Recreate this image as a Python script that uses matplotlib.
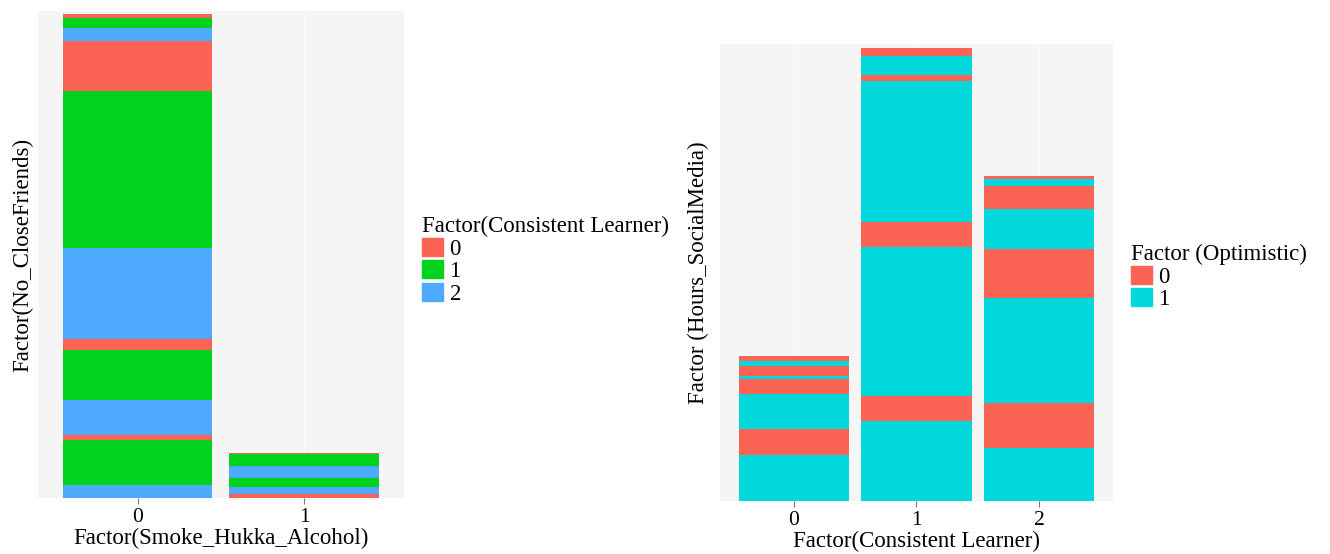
import matplotlib.pyplot as plt
from matplotlib.patches import Patch

plt.rcParams['font.family'] = ['Liberation Serif', 'DejaVu Serif']

# stacked segments, bottom to top: fill level and height
smoke_levels = ["0", "1"]
smoke0_fill = [2, 1, 0, 2, 1, 0, 2, 1, 0, 2, 1, 0]
smoke0_height = [12.7, 45.7, 4.6, 34.7, 50.7, 10.3, 91.3, 157, 50, 13, 10.4, 3.3]
smoke1_fill = [0, 2, 1, 2, 1, 0]
smoke1_height = [3.7, 7.6, 9, 12, 12, 1]

learner_levels = ["0", "1", "2"]
learner0_fill = [1, 0, 1, 0, 1, 0, 1, 0]
learner0_height = [45.7, 26, 35.7, 14.3, 3.3, 9.7, 5, 5.3]
learner1_fill = [1, 0, 1, 0, 1, 0, 1, 0]
learner1_height = [79.7, 25, 149.3, 25, 141, 6.4, 18.6, 7.7]
learner2_fill = [1, 0, 1, 0, 1, 0, 1, 0]
learner2_height = [53.3, 45, 104.7, 49, 40, 23, 6.7, 3.3]

learner_colors = ['#FB6454', '#00D21E', '#4DAAFD']
optimistic_colors = ['#FB6454', '#00D8DC']

W, H = 1330, 554
fig = plt.figure(figsize=(W / 100, H / 100), dpi=100)


def add_px_axes(x0, x1, ytop, ybot):
    return fig.add_axes([x0 / W, (H - ybot) / H, (x1 - x0) / W, (ybot - ytop) / H])


def style(ax, n, ymax, xlabel, ylabel, ypad):
    ax.set_facecolor('#F5F5F5')
    ax.set_xlim(-0.6, n - 1 + 0.6)
    ax.set_ylim(0, ymax)
    for s in ax.spines.values():
        s.set_visible(False)
    ax.set_axisbelow(True)
    ax.grid(axis='x', color='#FBFBFB', linewidth=0.8)
    ax.set_yticks([])
    ax.tick_params(axis='x', length=4, color='#777777', labelsize=15.5, pad=3)
    ax.set_xlabel(xlabel, fontsize=16.5, labelpad=1)
    ax.set_ylabel(ylabel, fontsize=16.5, labelpad=ypad)


def stack(ax, x, fills, heights, colors):
    bottom = 0
    for f, h in zip(fills, heights):
        ax.bar(x, h, bottom=bottom, width=0.9, color=colors[f], linewidth=0)
        bottom += h


# left: close friends by smoking
ax1 = add_px_axes(37.6, 404, 11, 498)
stack(ax1, 0, smoke0_fill, smoke0_height, learner_colors)
stack(ax1, 1, smoke1_fill, smoke1_height, learner_colors)
ax1.set_xticks(range(len(smoke_levels)), smoke_levels)
style(ax1, len(smoke_levels), 487, "Factor(Smoke_Hukka_Alcohol)", "Factor(No_CloseFriends)", 3)

# right: social media hours by consistent learner
ax2 = add_px_axes(720.2, 1112.6, 44, 501)
stack(ax2, 0, learner0_fill, learner0_height, optimistic_colors)
stack(ax2, 1, learner1_fill, learner1_height, optimistic_colors)
stack(ax2, 2, learner2_fill, learner2_height, optimistic_colors)
ax2.set_xticks(range(len(learner_levels)), learner_levels)
style(ax2, len(learner_levels), 457, "Factor(Consistent Learner)", "Factor (Hours_SocialMedia)", 8)

leg_kw = dict(frameon=False, fontsize=16.5, title_fontsize=16.5, handlelength=0.9,
              handleheight=0.85, labelspacing=0.02, handletextpad=0.3,
              borderpad=0, borderaxespad=0, alignment='left', loc='upper left')

fig.legend(handles=[Patch(color=c, label=l) for c, l in zip(learner_colors, learner_levels)],
           title="Factor(Consistent Learner)",
           bbox_to_anchor=(422 / W, 1 - 216 / H), **leg_kw)
fig.legend(handles=[Patch(color=c, label=l) for c, l in zip(optimistic_colors, ["0", "1"])],
           title="Factor (Optimistic)",
           bbox_to_anchor=(1131 / W, 1 - 244 / H), **leg_kw)

fig.savefig("out.png", dpi=100, facecolor='white')
